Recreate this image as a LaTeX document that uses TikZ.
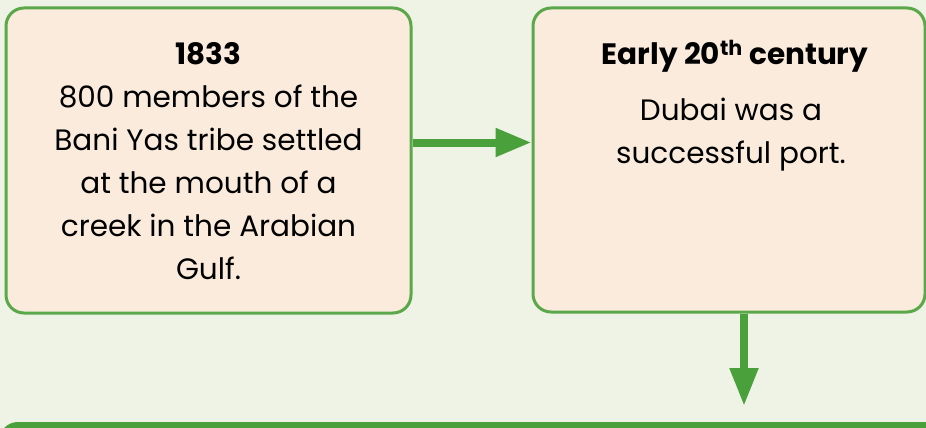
\documentclass[tikz,border=0pt]{standalone}
\usepackage{fontspec}
\setmainfont{Poppins}
\usetikzlibrary{arrows.meta}
\definecolor{bgc}{HTML}{EFF3E6}
\definecolor{boxfill}{HTML}{FAEBDD}
\definecolor{boxline}{HTML}{5BA84A}
\definecolor{arrowc}{HTML}{4AA03A}
\tikzset{
  card/.style={draw=boxline, fill=boxfill, line width=3pt, rounded corners=18pt, inner sep=0pt},
  txt/.style={align=center, font=\fontsize{29.5}{43}\selectfont, text=black, inner sep=0pt},
  flow/.style={draw=arrowc, line width=8pt, -{Triangle[length=36pt,width=27pt]}},
}
\begin{document}
\begin{tikzpicture}[x=1pt,y=-1pt]
\fill[bgc] (0,0) rectangle (926,428);
\useasboundingbox (0,0) rectangle (926,428);
\node[card, minimum width=405pt, minimum height=305pt] (L) at (208.5,160.5) {};
\node[card, minimum width=392pt, minimum height=304pt] (R) at (729,160) {};
\node[txt, anchor=base] (t1) at (208.5,65) {\textbf{1833}};
\node[txt, anchor=base] (t2) at (208.5,279) {800 members of the\\Bani Yas tribe settled\\at the mouth of a\\creek in the Arabian\\Gulf.};
\node[txt, anchor=base] (t3) at (735,65) {\textbf{Early 20\textsuperscript{th} century}};
\node[txt, anchor=base] (t4) at (731,163) {Dubai was a\\successful port.};
\coordinate (vend) at (744,406);
\draw[flow] ([yshift=18pt]L.east) -- ([yshift=17.5pt]R.west);
\draw[flow, -{Triangle[length=38pt,width=27pt]}] ([xshift=15pt]R.south) -- (vend);
\begin{scope}
\clip (0,0) rectangle (926,428);
\draw[draw=arrowc, line width=6pt, rounded corners=16pt] (2,425) rectangle (1000,600);
\end{scope}
\end{tikzpicture}
\end{document}
